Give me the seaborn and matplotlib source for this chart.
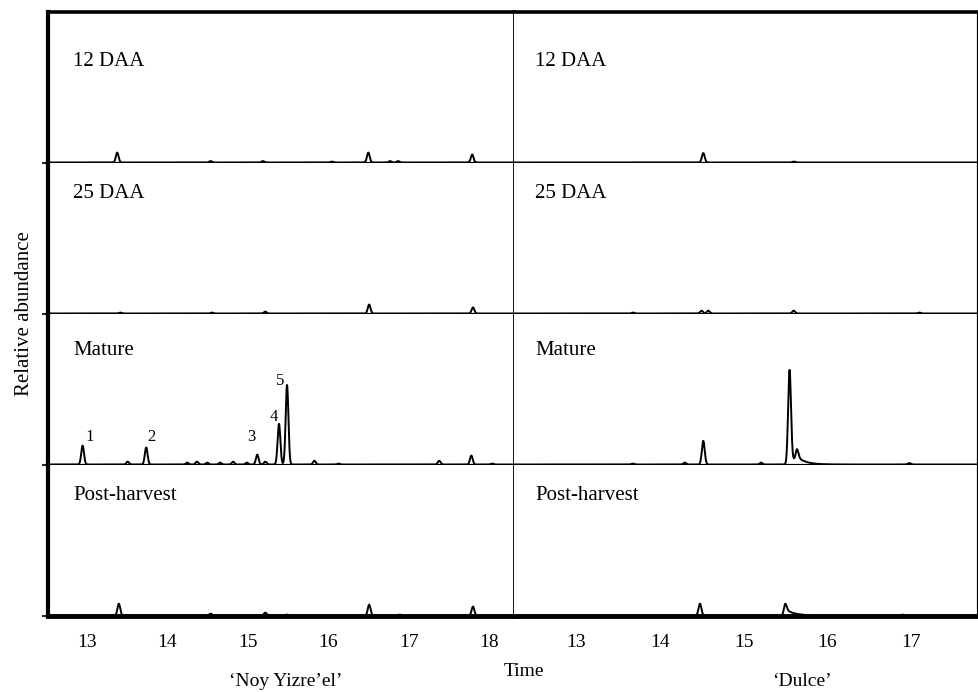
"""
Chromatograms of two cultivars at four ripening stages
"""

import numpy as np
import pandas as pd
import matplotlib
matplotlib.use('Agg')
import matplotlib.pyplot as plt
import seaborn as sns

"""
Data: peaks read off the picture (retention time in min, height relative to
the largest peak = 100). Tail lists give the tailing fraction of each peak.
"""
stages = ['12 DAA', '25 DAA', 'Mature', 'Post-harvest']
cultivars = ['\u2018Noy Yizre\u2019el\u2019', '\u2018Dulce\u2019']

noy_12_rt = [13.38, 14.54, 15.19, 16.05, 16.50, 16.77, 16.87, 17.79]
noy_12_h = [10.5, 1.5, 1.5, 1.0, 10.5, 1.5, 1.5, 8.5]

noy_25_rt = [13.42, 14.56, 15.22, 16.51, 17.80]
noy_25_h = [1.0, 1.0, 2.0, 9.5, 6.5]

noy_mat_rt = [12.95, 13.51, 13.74, 14.25, 14.37, 14.50, 14.66, 14.82, 14.99,
              15.12, 15.22, 15.39, 15.49, 15.83, 16.13, 17.38, 17.78, 18.04]
noy_mat_h = [20.0, 3.0, 18.0, 2.0, 3.0, 2.0, 2.0, 3.0, 2.0,
             10.5, 3.0, 43.0, 84.0, 4.0, 1.0, 4.0, 9.5, 1.0]

noy_post_rt = [13.40, 14.54, 15.22, 15.49, 16.51, 16.89, 17.80]
noy_post_h = [12.5, 2.0, 3.0, 1.0, 11.5, 1.0, 9.5]

dulce_12_rt = [14.52, 15.60]
dulce_12_h = [10.0, 1.0]

dulce_25_rt = [13.68, 14.50, 14.58, 15.60, 17.10]
dulce_25_h = [1.0, 3.0, 3.0, 3.0, 1.0]

dulce_mat_rt = [13.68, 14.30, 14.52, 15.21, 15.55, 15.64, 16.98]
dulce_mat_h = [1.0, 2.0, 25.0, 2.0, 100.0, 13.0, 1.5]
dulce_mat_tail = [0, 0, 0, 0, 0.08, 0.4, 0]

dulce_post_rt = [14.48, 15.50, 16.90]
dulce_post_h = [12.5, 12.5, 1.0]
dulce_post_tail = [0, 0.55, 0]

# peak numbers in the mature 'Noy Yizre'el' trace
peak_labels = ['1', '2', '3', '4', '5']
peak_label_rt = [13.04, 13.80, 15.04, 15.32, 15.40]
peak_label_h = [29, 29, 29, 50, 88]

xticks_noy = [13, 14, 15, 16, 17, 18]
xticks_dulce = [13, 14, 15, 16, 17]

"""
Helpers
"""


def trace(grid, rts, heights, tails=None, sigma=0.017, tau=0.10):
    if tails is None:
        tails = [0] * len(rts)
    y = np.zeros_like(grid)
    for rt, h, f in zip(rts, heights, tails):
        dt = grid - rt
        g = np.exp(-dt ** 2 / (2 * sigma ** 2))
        tail = np.where(dt > 0, np.exp(-np.clip(dt, 0, None) / tau), 0)
        y += h * ((1 - f) * g + f * np.where(dt > 0, np.maximum(g, tail), g))
    return y


"""
Figure
"""
sns.set_theme(style='white')
plt.rcParams['font.family'] = ['Liberation Serif', 'DejaVu Serif']
plt.rcParams['text.color'] = 'black'
plt.rcParams['xtick.color'] = 'black'

fig = plt.figure(figsize=(9.79, 6.92), dpi=100)
gs = fig.add_gridspec(4, 2, left=48 / 979, right=978 / 979, top=1 - 12 / 692,
                      bottom=1 - 616 / 692, hspace=0, wspace=0,
                      width_ratios=[466, 464])

panels = [
    [(noy_12_rt, noy_12_h, None), (dulce_12_rt, dulce_12_h, None)],
    [(noy_25_rt, noy_25_h, None), (dulce_25_rt, dulce_25_h, None)],
    [(noy_mat_rt, noy_mat_h, None), (dulce_mat_rt, dulce_mat_h, dulce_mat_tail)],
    [(noy_post_rt, noy_post_h, None), (dulce_post_rt, dulce_post_h, dulce_post_tail)],
]
xlims = [(12.52, 18.31), (12.26, 17.80)]
ytop = 159
label_y = [0.67, 0.80, 0.76, 0.80]

for r in range(4):
    for c in range(2):
        ax = fig.add_subplot(gs[r, c])
        rts, hs, tails = panels[r][c]
        grid = np.linspace(xlims[c][0], xlims[c][1], 5000)
        df = pd.DataFrame({'time': grid, 'abundance': trace(grid, rts, hs, tails)})
        sns.lineplot(data=df, x='time', y='abundance', ax=ax, color='black',
                     lw=1.4, estimator=None, sort=False)
        ax.set_xlim(*xlims[c])
        ax.set_ylim(-0.5, ytop)
        ax.set_xlabel('')
        ax.set_ylabel('')

        ax.text(0.054 if c == 0 else 0.045, label_y[r], stages[r],
                transform=ax.transAxes, fontsize=15, va='center', ha='left')

        for side in ['top', 'bottom', 'left', 'right']:
            ax.spines[side].set_color('black')
        ax.spines['top'].set_visible(r == 0)
        ax.spines['top'].set_linewidth(2.6)
        ax.spines['bottom'].set_linewidth(3.5 if r == 3 else 1.6)
        if c == 0:
            ax.spines['left'].set_linewidth(3.0)
            ax.spines['right'].set_linewidth(1.3)
            ax.set_yticks([0])
            ax.tick_params(axis='y', length=4, width=1.5, labelleft=False,
                           left=True, direction='out')
        else:
            ax.spines['left'].set_visible(False)
            ax.spines['right'].set_linewidth(1.6)
            ax.set_yticks([])

        ticks = xticks_noy if c == 0 else xticks_dulce
        ax.set_xticks(ticks)
        if r == 3:
            ax.set_xticklabels([str(t) for t in ticks], fontsize=14)
            ax.tick_params(axis='x', length=0, pad=13)
        else:
            ax.tick_params(axis='x', length=0, labelbottom=False)

        if r == 2 and c == 0:
            for lab, t, h in zip(peak_labels, peak_label_rt, peak_label_h):
                ax.text(t, h, lab, fontsize=12, ha='center', va='center')

fig.text(524 / 979, 1 - 671 / 692, 'Time', fontsize=14, ha='center', va='center')
fig.text(286 / 979, 1 - 682 / 692, cultivars[0], fontsize=14, ha='center', va='center')
fig.text(802 / 979, 1 - 682 / 692, cultivars[1], fontsize=14, ha='center', va='center')
fig.text(25 / 979, 1 - 314 / 692, 'Relative abundance', fontsize=15, rotation=90,
         ha='center', va='center')

fig.savefig('out.png', dpi=100, facecolor='white')
